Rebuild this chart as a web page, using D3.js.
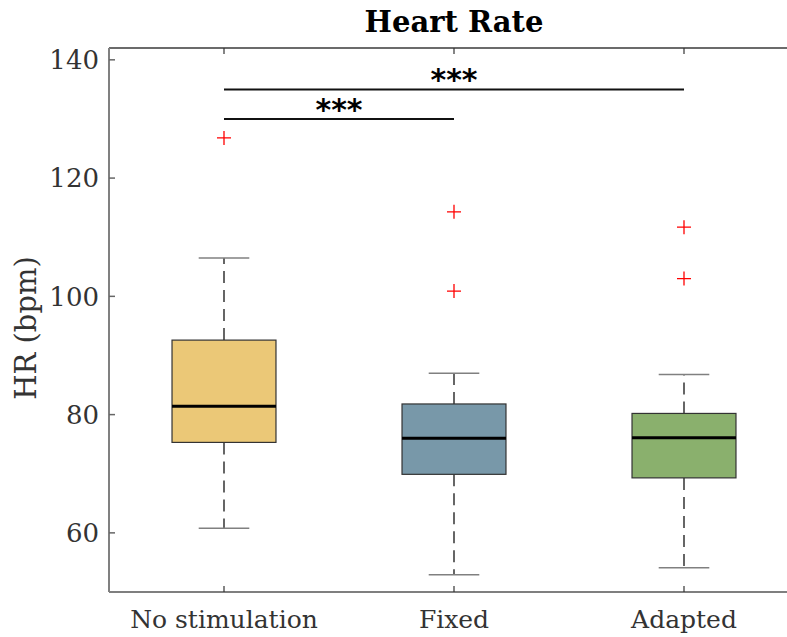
<!DOCTYPE html>
<html>
<head>
<meta charset="utf-8">
<script src="https://cdn.jsdelivr.net/npm/d3@7"></script>
<style>
  body { margin: 0; background: #fff; }
  svg { display: block; }
</style>
</head>
<body>
<svg id="chart" width="787" height="637"></svg>
<script>
const categories = ["No stimulation", "Fixed", "Adapted"];
const whiskerLow = [60.8, 52.9, 54.1];
const q1 = [75.3, 69.9, 69.3];
const median = [81.4, 76.0, 76.1];
const q3 = [92.6, 81.8, 80.2];
const whiskerHigh = [106.5, 87.0, 86.8];
const outliers = [[126.8], [114.3, 100.9], [111.7, 103.0]];
const boxColors = ["#ebc877", "#7898a9", "#8ab06d"];
const yTicks = [60, 80, 100, 120, 140];
// significance brackets: from, to, level, label
const sigFrom = [0, 0];
const sigTo = [1, 2];
const sigLevel = [130, 135];
const sigLabel = ["***", "***"];

const svg = d3.select("#chart");
const serif = "'DejaVu Serif', 'Liberation Serif', serif";

const x = d3.scaleLinear().domain([0.5, 3.5]).range([109, 799]);
const y = d3.scaleLinear().domain([50, 142]).range([592, 48]);

// half widths
const boxW = x(1.226) - x(1);
const capW = x(1.11) - x(1);

// axis box
const axL = x.range()[0], axR = x.range()[1];
const axT = y.range()[1], axB = y.range()[0];

svg.append("line").attr("x1", axL).attr("x2", axR).attr("y1", axT).attr("y2", axT)
  .attr("stroke", "#3a3a3a").attr("stroke-width", 1.5);
svg.append("line").attr("x1", axL).attr("x2", axR).attr("y1", axB).attr("y2", axB)
  .attr("stroke", "#555").attr("stroke-width", 1.5);
svg.append("line").attr("x1", axL).attr("x2", axL).attr("y1", axT).attr("y2", axB)
  .attr("stroke", "#808080").attr("stroke-width", 2);

// y ticks
yTicks.forEach(t => {
  svg.append("line").attr("x1", axL).attr("x2", axL + 6)
    .attr("y1", y(t)).attr("y2", y(t)).attr("stroke", "#666").attr("stroke-width", 1.5);
  svg.append("text").attr("x", axL - 10).attr("y", y(t))
    .attr("text-anchor", "end").attr("dy", "0.36em")
    .style("font", `26px ${serif}`).style("fill", "#333").text(t);
});

// x ticks
categories.forEach((c, i) => {
  const cx = x(i + 1);
  svg.append("line").attr("x1", cx).attr("x2", cx).attr("y1", axT).attr("y2", axT + 6)
    .attr("stroke", "#333").attr("stroke-width", 1.2);
  svg.append("line").attr("x1", cx).attr("x2", cx).attr("y1", axB).attr("y2", axB - 6)
    .attr("stroke", "#333").attr("stroke-width", 1.2);
  svg.append("text").attr("x", cx).attr("y", 628)
    .attr("text-anchor", "middle")
    .style("font", `25px ${serif}`).style("fill", "#333").text(c);
});

// boxes
categories.forEach((c, i) => {
  const cx = x(i + 1);
  // whiskers
  svg.append("line").attr("x1", cx).attr("x2", cx).attr("y1", y(q3[i])).attr("y2", y(whiskerHigh[i]))
    .attr("stroke", "#000").attr("stroke-width", 1.2).attr("stroke-dasharray", "12,7");
  svg.append("line").attr("x1", cx).attr("x2", cx).attr("y1", y(q1[i])).attr("y2", y(whiskerLow[i]))
    .attr("stroke", "#000").attr("stroke-width", 1.2).attr("stroke-dasharray", "12,7");
  // caps
  [whiskerLow[i], whiskerHigh[i]].forEach(v => {
    svg.append("line").attr("x1", cx - capW).attr("x2", cx + capW).attr("y1", y(v)).attr("y2", y(v))
      .attr("stroke", "#808080").attr("stroke-width", 1.5);
  });
  svg.append("rect")
    .attr("x", cx - boxW).attr("width", 2 * boxW)
    .attr("y", y(q3[i])).attr("height", y(q1[i]) - y(q3[i]))
    .attr("fill", boxColors[i]).attr("stroke", "#333").attr("stroke-width", 1.2);
  svg.append("line").attr("x1", cx - boxW).attr("x2", cx + boxW)
    .attr("y1", y(median[i])).attr("y2", y(median[i]))
    .attr("stroke", "#000").attr("stroke-width", 3);
  outliers[i].forEach(v => {
    svg.append("path")
      .attr("d", `M${cx - 7},${y(v)}H${cx + 7}M${cx},${y(v) - 7}V${y(v) + 7}`)
      .attr("stroke", "red").attr("stroke-width", 1.3).attr("fill", "none");
  });
});

// significance bars
sigLevel.forEach((lv, k) => {
  const x1 = x(sigFrom[k] + 1), x2 = x(sigTo[k] + 1);
  svg.append("line").attr("x1", x1).attr("x2", x2).attr("y1", y(lv)).attr("y2", y(lv))
    .attr("stroke", "#111").attr("stroke-width", 2);
  svg.append("text").attr("x", (x1 + x2) / 2).attr("y", y(lv) + 1)
    .attr("text-anchor", "middle")
    .style("font", "bold 30px 'DejaVu Sans', sans-serif").style("fill", "#000").text(sigLabel[k]);
});

// title
svg.append("text").attr("x", (axL + axR) / 2).attr("y", 32)
  .attr("text-anchor", "middle")
  .style("font", `bold 29px ${serif}`).style("fill", "#000").text("Heart Rate");

// y label
svg.append("text")
  .attr("transform", `translate(36,${(axT + axB) / 2 + 8}) rotate(-90)`)
  .attr("text-anchor", "middle")
  .style("font", `29px ${serif}`).style("fill", "#333").text("HR (bpm)");
</script>
</body>
</html>
